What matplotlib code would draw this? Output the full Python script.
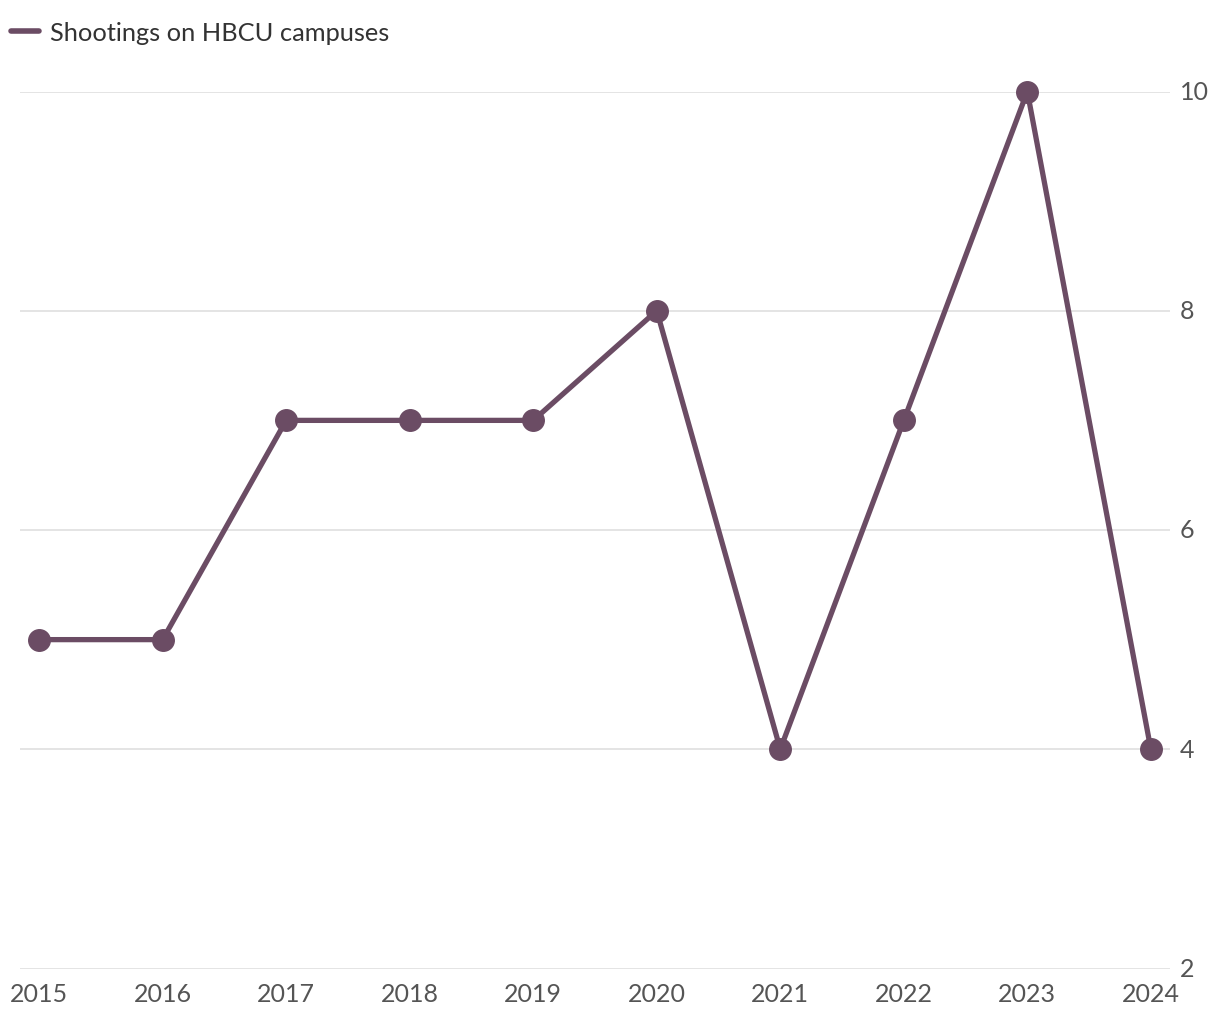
import matplotlib
matplotlib.use("Agg")
import matplotlib.pyplot as plt

plt.rcParams['font.family'] = ['Lato', 'DejaVu Sans']

years = [2015, 2016, 2017, 2018, 2019, 2020, 2021, 2022, 2023, 2024]
shootings = [5, 5, 7, 7, 7, 8, 4, 7, 10, 4]
y_ticks = [2, 4, 6, 8, 10]
series_label = "Shootings on HBCU campuses"

color = "#6b4c64"

fig = plt.figure(figsize=(12.2, 10.2), dpi=100)
ax = fig.add_axes([20/1220, 50.5/1020, 1150/1220, 877/1020])

ax.plot(years, shootings, color=color, lw=3.8, marker='o', ms=15.5,
        label=series_label, clip_on=False, zorder=3, solid_joinstyle='miter')

ax.set_ylim(2, 10)
ax.set_xlim(2015 - 0.155, 2024 + 0.155)
ax.set_yticks(y_ticks)
ax.set_xticks(years)
ax.set_xticklabels([str(y) for y in years])
ax.yaxis.tick_right()
ax.tick_params(axis='y', length=0, pad=7, labelsize=18, labelcolor='#555555')
ax.tick_params(axis='x', length=0, pad=9.5, labelsize=18, labelcolor='#555555')
for lab in ax.get_yticklabels():
    lab.set_verticalalignment('center')
ax.grid(axis='y', color='#e2e2e2', lw=1.3)
ax.set_axisbelow(True)
for s in ax.spines.values():
    s.set_visible(False)

leg = fig.legend(handles=[ax.lines[0]], labels=[series_label], loc='upper left',
                 bbox_to_anchor=(11/1220, 1 - 22/1020), frameon=False, fontsize=18.3,
                 handlelength=1.1, handletextpad=0.45, borderaxespad=0,
                 borderpad=0, labelcolor='#333333')
h = leg.legend_handles[0]
h.set_marker('')
h.set_solid_capstyle('round')
h.set_linewidth(4)

fig.savefig("out.png", dpi=100, facecolor='white')
